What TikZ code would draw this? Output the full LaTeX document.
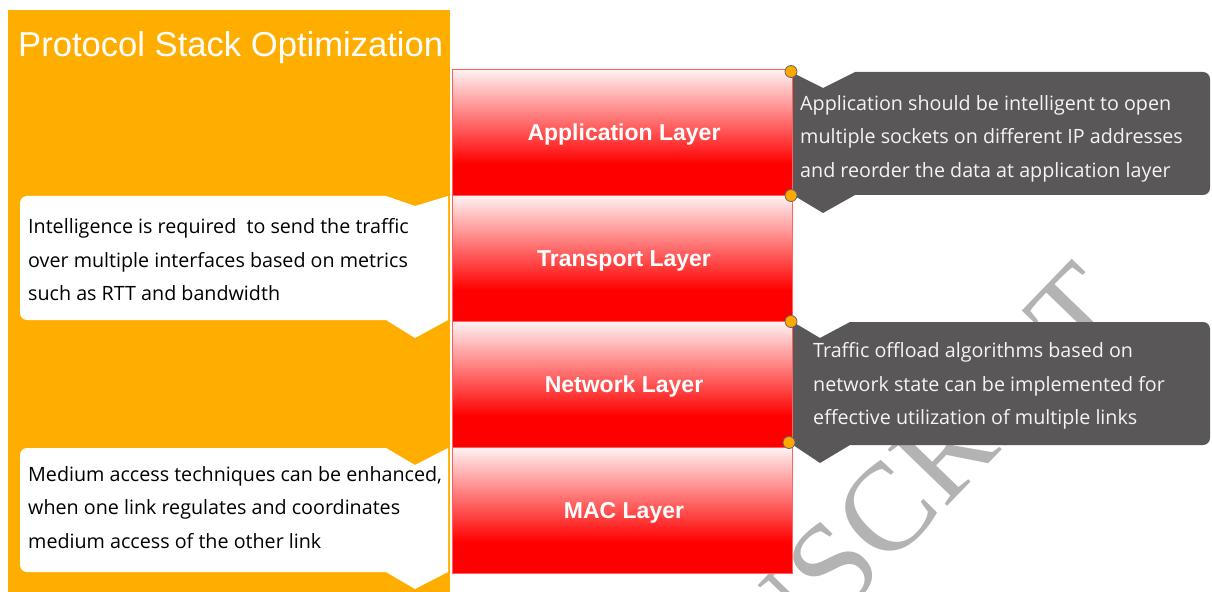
\documentclass[tikz,border=0pt]{standalone}
\usepackage{fontspec}
\setmainfont{Liberation Sans}
\newfontfamily\wmfont{Liberation Serif}
\newfontfamily\callfont{Open Sans}
\definecolor{panelorange}{RGB}{255,174,0}
\definecolor{darkcall}{RGB}{89,87,88}
\definecolor{dotorange}{RGB}{255,168,0}
\definecolor{wmgray}{RGB}{179,179,179}
\definecolor{layerborder}{RGB}{255,95,95}
\definecolor{lighttext}{RGB}{244,244,244}
\pgfdeclareverticalshading{layershade}{100bp}{color(0bp)=(red); color(37.5bp)=(red); color(75bp)=(red!5!white); color(100bp)=(red!5!white)}
\begin{document}
\begin{tikzpicture}[x=1bp,y=-1bp,
  layer/.style={draw=layerborder, line width=0.8bp, shading=layershade,
    minimum width=340bp, minimum height=126bp, inner sep=0pt, outer sep=0pt},
  layerlabel/.style={text=white, inner sep=0pt, font=\fontsize{23bp}{27bp}\selectfont\bfseries},
  calltext/.style={anchor=west, align=left, inner sep=0pt,
    font=\callfont\fontsize{19.7bp}{33.5bp}\selectfont},
  pin/.style={fill=dotorange, draw=black!60, line width=0.8bp},
  watermark/.style={text=wmgray, inner sep=0pt, rotate=46,
    font=\wmfont\fontsize{125bp}{125bp}\selectfont}]
\useasboundingbox (0,0) rectangle (1212,592);
% watermark
\coordinate (wm) at (838,620);
\node[watermark, anchor=base west] (wmR) at (wm) {SCRIPT};
\node[watermark, anchor=base east] (wmL) at (wm) {MANU};
% orange panel
\fill[panelorange] (8,10) rectangle (450,592);
\node[anchor=base west, inner sep=0pt, text=white, font=\fontsize{34.6bp}{40bp}\selectfont] (title) at (18,57) {Protocol Stack Optimization};
% layers
\node[layer] (app)   at (622,132.5) {};
\node[layer] (trans) at (622,258.5) {};
\node[layer] (net)   at (622,384.5) {};
\node[layer] (mac)   at (622,510.5) {};
\node[layerlabel] (appL)   at ([xshift=2bp,yshift=-2.5bp]app.center)   {Application Layer};
\node[layerlabel] (transL) at ([xshift=2bp,yshift=-2.5bp]trans.center) {Transport Layer};
\node[layerlabel] (netL)   at ([xshift=2bp,yshift=-2.5bp]net.center)   {Network Layer};
\node[layerlabel] (macL)   at ([xshift=2bp,yshift=-2.5bp]mac.center)   {MAC Layer};
% dark callouts
\fill[darkcall] (793,73) -- (823,88) -- (855,72) [rounded corners=7bp] -- (1210,72) -- (1210,195) [sharp corners] -- (855,195) -- (823,213) -- (793,195) -- cycle;
\fill[darkcall] (793,322) -- (820,338) -- (850,322) [rounded corners=7bp] -- (1210,322) -- (1210,445) [sharp corners] -- (850,445) -- (820,463) -- (793,445) -- cycle;
% white callouts
\fill[white] (448,196) -- (415,206) -- (386,196) [rounded corners=7bp] -- (20,196) -- (20,320) [sharp corners] -- (386,320) -- (415,338) -- (448,320) -- cycle;
\fill[white] (448,448) -- (415,465) -- (386,448) [rounded corners=7bp] -- (20,448) -- (20,572) [sharp corners] -- (386,572) -- (415,589) -- (448,572) -- cycle;
% callout texts
\node[calltext, text=lighttext] (appnote) at (800,138.5) {Application should be intelligent to open\\multiple sockets on different IP addresses\\and reorder the data at application layer};
\node[calltext] (transnote) at (28,260) {Intelligence is required \ to send the traffic\\over multiple interfaces based on metrics\\such as RTT and bandwidth};
\node[calltext, text=lighttext] (netnote) at (813,386) {Traffic offload algorithms based on\\network state can be implemented for\\effective utilization of multiple links};
\node[calltext] (macnote) at (28,507.5) {Medium access techniques can be enhanced,\\when one link regulates and coordinates\\medium access of the other link};
% pins
\filldraw[pin] ([xshift=-1bp,yshift=-2bp]app.north east) circle (6bp);
\filldraw[pin] ([xshift=-1bp]app.south east) circle (6bp);
\filldraw[pin] ([xshift=-1bp]trans.south east) circle (6bp);
\filldraw[pin] ([xshift=-3bp,yshift=5bp]net.south east) circle (6bp);
\end{tikzpicture}
\end{document}
